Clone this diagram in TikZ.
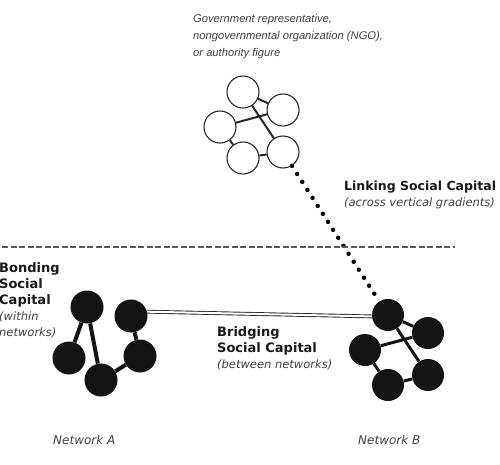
\documentclass[tikz,border=0pt]{standalone}
\usepackage{fontspec}
\setsansfont{DejaVu Sans}
\newfontfamily\govfont{Liberation Sans}
\usepackage{xcolor}
\usetikzlibrary{positioning}

\begin{document}
\begin{tikzpicture}[
    x=1pt, y=-1pt,
    person/.style={circle, draw=black!85, line width=1.1pt, fill=white, minimum size=32pt, inner sep=0pt},
    member/.style={circle, fill=black!92, minimum size=33pt, inner sep=0pt},
    heading/.style={anchor=north west, inner sep=0pt, align=left, text=black!90, font=\sffamily\bfseries\fontsize{13}{16}\selectfont},
    note/.style={anchor=north west, inner sep=0pt, align=left, text=black!75, font=\sffamily\itshape\fontsize{12}{15}\selectfont},
]
\useasboundingbox (0,0) rectangle (500,464);

% Authority network (top)
\node[person] (t1) at (243,92) {};
\node[person] (t2) at (283,110) {};
\node[person] (t3) at (220,127) {};
\node[person] (t4) at (243,158) {};
\node[person] (t5) at (283,152) {};
\draw[line width=2pt, black!85] (t1) -- (t2) (t3) -- (t2) (t1) -- (t5) (t3) -- (t4) (t4) -- (t5);

% Network A
\node[member] (a1) at (87,307) {};
\node[member] (a2) at (131,316) {};
\node[member] (a3) at (69,358) {};
\node[member] (a4) at (101,380) {};
\node[member] (a5) at (140,356) {};
\draw[line width=4pt, black!92] (a1) -- (a3) (a1) -- (a4) (a4) -- (a5) (a5) -- (a2);

% Network B
\node[member, minimum size=32pt] (b1) at (388,315) {};
\node[member, minimum size=32pt] (b2) at (428,333) {};
\node[member, minimum size=32pt] (b3) at (365,350) {};
\node[member, minimum size=32pt] (b4) at (388,385) {};
\node[member, minimum size=32pt] (b5) at (428,375) {};
\draw[line width=3pt, black!92] (b1) -- (b2) (b3) -- (b2) (b1) -- (b5) (b3) -- (b4) (b4) -- (b5);

% Ties between levels and networks
\draw[black!85, line width=0.9pt, double=white, double distance=2pt] (a2.15) -- (b1.185);
\draw[black, line width=4.5pt, line cap=round, dash pattern=on 0pt off 9.5pt] (t5) -- (b1);
\draw[black!65, line width=1.1pt, dash pattern=on 6pt off 2.5pt] (2,247) -- (455,247);

% Labels
\node[anchor=north west, inner sep=0pt, align=left, text=black!75, font=\govfont\itshape\fontsize{11.2}{17}\selectfont] (authority) at (193,14) {Government representative,\\nongovernmental organization (NGO),\\or authority figure};
\node[heading, font=\sffamily\bfseries\fontsize{12.5}{15.5}\selectfont] (linking) at (344,181) {Linking Social Capital\\{\mdseries\itshape\color{black!75}\fontsize{11.5}{15}\selectfont(across vertical gradients)}};
\node[heading] (bonding) at (-1,262) {Bonding\\Social\\Capital\\{\mdseries\itshape\color{black!75}\fontsize{11.5}{16}\selectfont(within}\\{\mdseries\itshape\color{black!75}\fontsize{11.5}{16}\selectfont networks)}};
\node[heading] (bridging) at (217,326) {Bridging\\Social Capital\\{\mdseries\itshape\color{black!75}\fontsize{11.5}{15}\selectfont(between networks)}};
\node[note] (labelA) at (53,435) {Network A};
\node[note] (labelB) at (358,435) {Network B};

\end{tikzpicture}
\end{document}
